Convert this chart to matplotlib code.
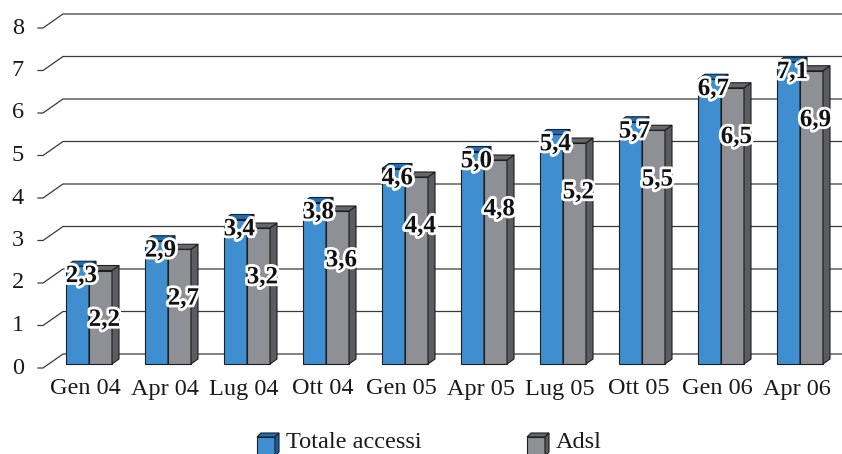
import matplotlib; matplotlib.use('Agg')
import matplotlib.pyplot as plt
import matplotlib.patches as mpatches
import matplotlib.patheffects as pe

plt.rcParams['font.family'] = ['Liberation Serif', 'DejaVu Serif']

categories = ['Gen 04', 'Apr 04', 'Lug 04', 'Ott 04', 'Gen 05',
              'Apr 05', 'Lug 05', 'Ott 05', 'Gen 06', 'Apr 06']
totale = [2.3, 2.9, 3.4, 3.8, 4.6, 5.0, 5.4, 5.7, 6.7, 7.1]
adsl = [2.2, 2.7, 3.2, 3.6, 4.4, 4.8, 5.2, 5.5, 6.5, 6.9]
yticks = [0, 1, 2, 3, 4, 5, 6, 7, 8]
series_names = ['Totale accessi', 'Adsl']

# pixel geometry of the reference (842x454)
PX0, PXW = 89, 79        # category 0 boundary, spacing in px
PY0, PYU = 364, 42.5     # bar baseline, px per unit


def X(px):
    return (px - PX0) / PXW


def Y(py):
    return (PY0 - py) / PYU


BW = 23 / PXW            # bar width
DX, DY = 7 / PXW, 5 / PYU  # bar depth

blue = dict(front='#3f8fd0', top='#1a6fbd', side='#175fa6')
gray = dict(front='#8f9095', top='#66676c', side='#5b5c61')

fig = plt.figure(figsize=(8.42, 4.54), dpi=100)
fig.patch.set_facecolor('white')
ax = fig.add_axes([0, 0, 1, 1])
ax.set_xlim(X(0), X(842))
ax.set_ylim(Y(454), Y(0))
ax.axis('off')

# grid lines with the slanted wall offset
fo, bo = -4 / PYU, 10 / PYU
for v in yticks:
    ax.plot([X(38), X(43), X(63), X(842)], [v + fo, v + fo, v + bo, v + bo],
            color='#3a3a3a', lw=0.9, zorder=1, solid_joinstyle='miter')
    ax.text(X(24), v + fo, str(v), ha='right', va='center', fontsize=17.5,
            color='#1a1a1a')


def bar3d(x0, v, c, z):
    x1 = x0 + BW
    ax.bar(x0, v, width=BW, align='edge', color=c['front'],
           edgecolor='#1e1e1e', linewidth=0.8, zorder=z)
    ax.add_patch(mpatches.Polygon([(x1, 0), (x1 + DX, DY), (x1 + DX, v + DY), (x1, v)],
                 closed=True, facecolor=c['side'], edgecolor='#1e1e1e', lw=0.8, zorder=z))
    ax.add_patch(mpatches.Polygon([(x0, v), (x0 + DX, v + DY), (x1 + DX, v + DY), (x1, v)],
                 closed=True, facecolor=c['top'], edgecolor='#1e1e1e', lw=0.8, zorder=z))


stroke = [pe.withStroke(linewidth=4, foreground='white')]
lab_kw = dict(ha='center', va='center', fontsize=18, fontweight='bold',
              color='#111111', path_effects=stroke, zorder=10)

for i, (a, b) in enumerate(zip(totale, adsl)):
    bar3d(i - BW, a, blue, 3)
    bar3d(i, b, gray, 4)
    ax.text(i - BW / 2 + 0.05, a - 0.22, f'{a:.1f}'.replace('.', ','), **lab_kw)
    ax.text(i + BW / 2 + 0.05, b - 1.15, f'{b:.1f}'.replace('.', ','), **lab_kw)
    ax.text(i - 0.04, Y(389), categories[i], ha='center', va='center',
            fontsize=17.5, color='#1a1a1a')

# legend with small cubes
def cube(px, c, label):
    x0, x1 = X(px), X(px + 18)
    y0, y1 = Y(456), Y(437)
    dx, dy = 4 / PXW, 4 / PYU
    ax.add_patch(mpatches.Polygon([(x0, y0), (x1, y0), (x1, y1), (x0, y1)],
                 facecolor=c['front'], edgecolor='#1e1e1e', lw=0.8, clip_on=False))
    ax.add_patch(mpatches.Polygon([(x0, y1), (x0 + dx, y1 + dy), (x1 + dx, y1 + dy), (x1, y1)],
                 facecolor=c['top'], edgecolor='#1e1e1e', lw=0.8))
    ax.add_patch(mpatches.Polygon([(x1, y0), (x1 + dx, y0 + dy), (x1 + dx, y1 + dy), (x1, y1)],
                 facecolor=c['side'], edgecolor='#1e1e1e', lw=0.8))
    ax.text(X(px + 29), Y(442), label, ha='left', va='center', fontsize=17.5,
            color='#1a1a1a')


cube(257, blue, series_names[0])
cube(527, gray, series_names[1])

plt.savefig('out.png', dpi=100, facecolor='white')
